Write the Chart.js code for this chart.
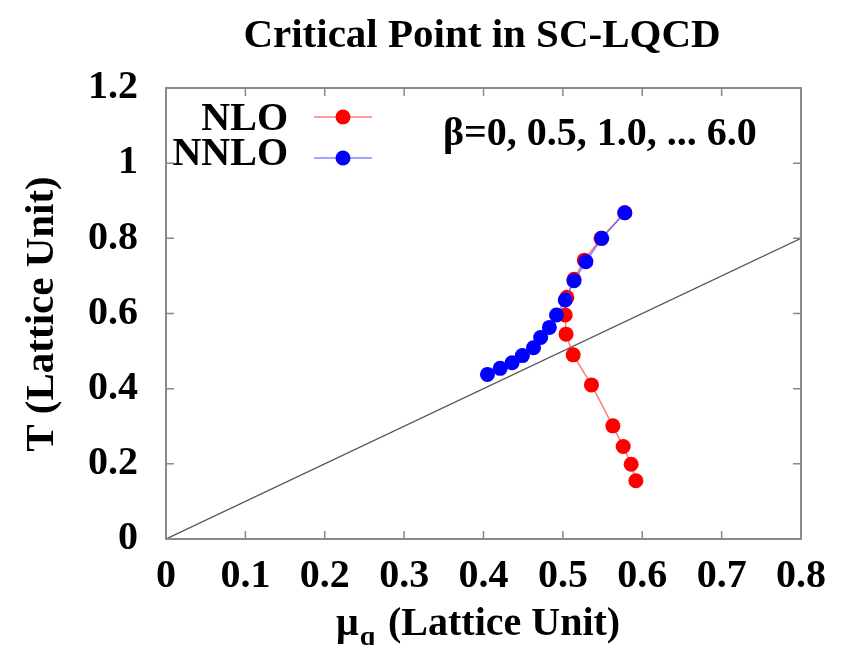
<!DOCTYPE html>
<html>
<head>
<meta charset="utf-8">
<script src="https://cdn.jsdelivr.net/npm/chart.js@4.4.0/dist/chart.umd.min.js"></script>
<style>
  html, body { margin: 0; padding: 0; background: #fff; }
  #wrap { width: 851px; height: 645px; position: relative; }
</style>
</head>
<body>
<div id="wrap"><canvas id="c" width="851" height="645"></canvas></div>
<script>
// ---- data ----
const beta = [0, 0.5, 1.0, 1.5, 2.0, 2.5, 3.0, 3.5, 4.0, 4.5, 5.0, 5.5, 6.0];
const nloMu  = [0.578, 0.548, 0.527, 0.514, 0.505, 0.503, 0.504, 0.513, 0.536, 0.563, 0.576, 0.586, 0.592];
const nloT   = [0.868, 0.800, 0.742, 0.691, 0.643, 0.596, 0.545, 0.490, 0.410, 0.301, 0.246, 0.199, 0.155];
const nnloMu = [0.578, 0.549, 0.529, 0.514, 0.503, 0.492, 0.483, 0.472, 0.463, 0.449, 0.436, 0.421, 0.405];
const nnloT  = [0.868, 0.800, 0.738, 0.687, 0.636, 0.596, 0.563, 0.536, 0.509, 0.488, 0.469, 0.454, 0.438];
const diagMu = [0, 0.8];
const diagT  = [0, 0.8];
const xTickLabels = ['0', '0.1', '0.2', '0.3', '0.4', '0.5', '0.6', '0.7', '0.8'];
const yTickLabels = ['0', '0.2', '0.4', '0.6', '0.8', '1', '1.2'];
const seriesNames = ['NLO', 'NNLO'];
const titleText = 'Critical Point in SC-LQCD';
const noteText = 'β=0, 0.5, 1.0, ... 6.0';
const yTitle = 'T (Lattice Unit)';

const FONT = '"Liberation Serif", "Times New Roman", serif';
const pts = (xs, ys) => xs.map((x, i) => ({ x: x, y: ys[i] }));

const RED = '#ff0000', BLUE = '#0000ff';
const RED_LINE = 'rgba(255,80,80,0.75)', BLUE_LINE = 'rgba(90,90,255,0.75)';

const decor = {
  id: 'decor',
  afterDraw(chart) {
    const ctx = chart.ctx;
    const a = chart.chartArea;
    const xs = chart.scales.x, ys = chart.scales.y;
    ctx.save();
    // frame
    ctx.strokeStyle = '#8a8a8a';
    ctx.lineWidth = 2;
    ctx.strokeRect(a.left, a.top, a.right - a.left, a.bottom - a.top);
    // inward ticks on all sides
    ctx.lineWidth = 1.5;
    ctx.beginPath();
    xs.ticks.forEach(t => {
      const p = xs.getPixelForValue(t.value);
      if (p <= a.left + 1 || p >= a.right - 1) return;
      ctx.moveTo(p, a.bottom); ctx.lineTo(p, a.bottom - 8);
      ctx.moveTo(p, a.top); ctx.lineTo(p, a.top + 8);
    });
    ys.ticks.forEach(t => {
      const p = ys.getPixelForValue(t.value);
      if (p <= a.top + 1 || p >= a.bottom - 1) return;
      ctx.moveTo(a.left, p); ctx.lineTo(a.left + 8, p);
      ctx.moveTo(a.right, p); ctx.lineTo(a.right - 8, p);
    });
    ctx.stroke();

    ctx.fillStyle = '#000';
    ctx.textBaseline = 'alphabetic';
    // title
    ctx.font = 'bold 41px ' + FONT;
    ctx.textAlign = 'center';
    ctx.fillText(titleText, 482, 47);
    // note
    ctx.font = 'bold 40px ' + FONT;
    ctx.textAlign = 'left';
    ctx.fillText(noteText, 443, 145);
    // legend
    const leg = [
      { name: seriesNames[0], base: 130, ly: 117, c: RED, lc: RED_LINE },
      { name: seriesNames[1], base: 165, ly: 158, c: BLUE, lc: BLUE_LINE }
    ];
    leg.forEach(l => {
      ctx.fillStyle = '#000';
      ctx.textAlign = 'right';
      ctx.fillText(l.name, 288, l.base);
      ctx.strokeStyle = l.lc;
      ctx.lineWidth = 1.5;
      ctx.beginPath(); ctx.moveTo(314, l.ly); ctx.lineTo(372, l.ly); ctx.stroke();
      ctx.fillStyle = l.c;
      ctx.beginPath(); ctx.arc(343, l.ly, 7.5, 0, Math.PI * 2); ctx.fill();
    });
    // y title
    ctx.fillStyle = '#000';
    ctx.save();
    ctx.translate(53, 314);
    ctx.rotate(-Math.PI / 2);
    ctx.textAlign = 'center';
    ctx.font = 'bold 41px ' + FONT;
    ctx.fillText(yTitle, 0, 0);
    ctx.restore();
    // x title with subscript
    ctx.textAlign = 'left';
    ctx.font = 'bold 40px ' + FONT;
    ctx.fillText('μ', 336, 635);
    const mw = ctx.measureText('μ').width;
    ctx.font = 'bold 28px ' + FONT;
    ctx.fillText('q', 336 + mw + 1, 645);
    ctx.font = 'bold 40px ' + FONT;
    ctx.fillText('(Lattice Unit)', 388, 635);
    ctx.restore();
  }
};

new Chart(document.getElementById('c'), {
  type: 'scatter',
  data: {
    datasets: [
      {
        label: seriesNames[1], data: pts(nnloMu, nnloT), showLine: true,
        borderColor: BLUE_LINE, borderWidth: 1.5, backgroundColor: BLUE,
        pointRadius: 7.5, pointBorderWidth: 0, pointBackgroundColor: BLUE, order: 1
      },
      {
        label: seriesNames[0], data: pts(nloMu, nloT), showLine: true,
        borderColor: RED_LINE, borderWidth: 1.5, backgroundColor: RED,
        pointRadius: 7.5, pointBorderWidth: 0, pointBackgroundColor: RED, order: 2
      },
      {
        label: 'T=μ', data: pts(diagMu, diagT), showLine: true,
        borderColor: '#555555', borderWidth: 1.3, pointRadius: 0, order: 3
      }
    ]
  },
  options: {
    responsive: false,
    animation: false,
    events: [],
    layout: { padding: { top: 88, right: 50, left: 0, bottom: 0 } },
    plugins: { legend: { display: false }, title: { display: false }, tooltip: { enabled: false } },
    scales: {
      x: {
        type: 'linear', min: 0, max: 0.8,
        afterFit: s => { s.height = 106; },
        grid: { display: false, drawTicks: false },
        border: { display: false },
        ticks: {
          stepSize: 0.1, padding: 14, color: '#000',
          font: { family: FONT, size: 40, weight: 'bold' },
          maxRotation: 0, autoSkip: false,
          callback: (v, i) => xTickLabels[i]
        }
      },
      y: {
        type: 'linear', min: 0, max: 1.2,
        afterFit: s => { s.width = 166; },
        grid: { display: false, drawTicks: false },
        border: { display: false },
        ticks: {
          stepSize: 0.2, padding: 28, color: '#000',
          font: { family: FONT, size: 40, weight: 'bold' },
          autoSkip: false,
          callback: (v, i) => yTickLabels[i]
        }
      }
    }
  },
  plugins: [decor]
});
</script>
</body>
</html>
